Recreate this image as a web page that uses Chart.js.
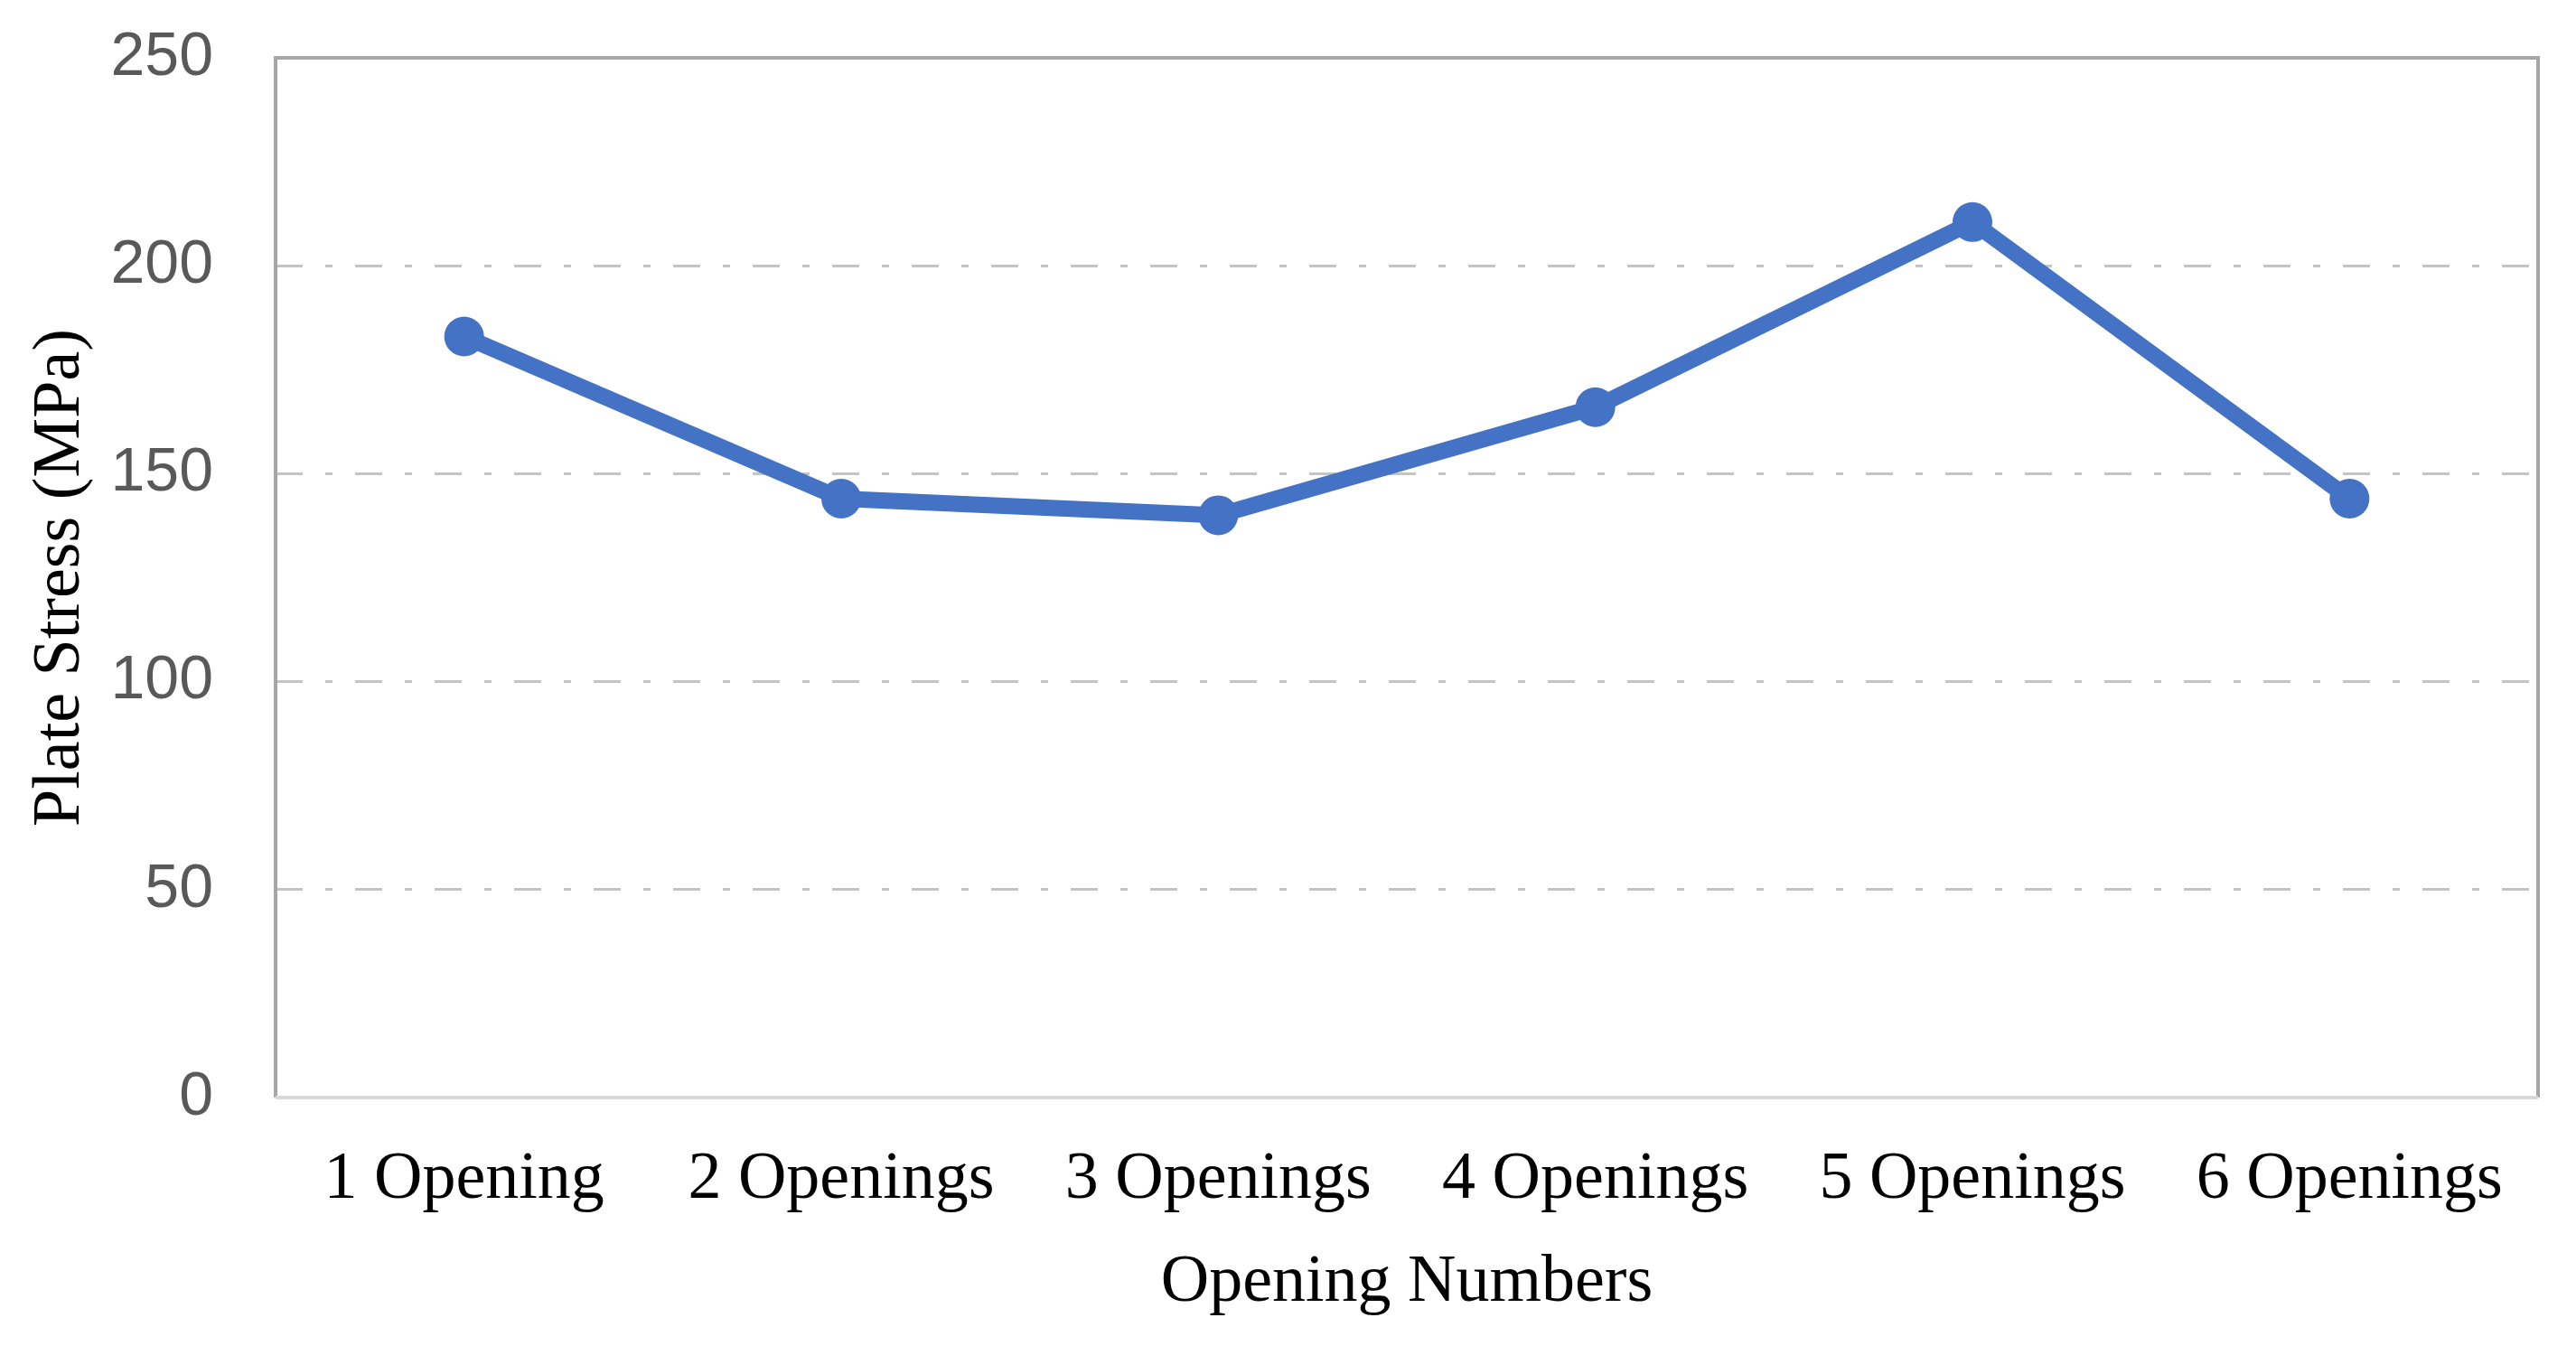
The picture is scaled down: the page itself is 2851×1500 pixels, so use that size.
<!DOCTYPE html>
<html>
<head>
<meta charset="utf-8">
<script src="https://cdn.jsdelivr.net/npm/chart.js@4/dist/chart.umd.min.js"></script>
<style>
  html, body { margin: 0; padding: 0; background: #fff; }
  #wrap { width: 2851px; height: 1500px; }
</style>
</head>
<body>
<div id="wrap"><canvas id="stressChart" width="2851" height="1500"></canvas></div>
<script>
// data
const categories = ['1 Opening', '2 Openings', '3 Openings', '4 Openings', '5 Openings', '6 Openings'];
const plateStress = [183, 144, 140, 166, 210.5, 144];
const yTicks = [0, 50, 100, 150, 200, 250];

const blue = '#4472C4';

// plot area frame, like the office chart box
const frame = {
    id: 'frame',
    beforeDatasetsDraw(chart) {
        const { ctx, chartArea: a } = chart;
        ctx.save();
        ctx.lineWidth = 4;
        ctx.strokeStyle = '#a6a6a6';
        ctx.beginPath();
        ctx.moveTo(a.left, a.bottom);
        ctx.lineTo(a.left, a.top);
        ctx.lineTo(a.right, a.top);
        ctx.lineTo(a.right, a.bottom);
        ctx.stroke();
        ctx.strokeStyle = '#d9d9d9';
        ctx.beginPath();
        ctx.moveTo(a.left, a.bottom);
        ctx.lineTo(a.right, a.bottom);
        ctx.stroke();
        ctx.restore();
    }
};

new Chart(document.getElementById('stressChart'), {
    type: 'line',
    data: {
        labels: categories,
        datasets: [{
            label: 'Plate Stress',
            data: plateStress,
            borderColor: blue,
            backgroundColor: blue,
            borderWidth: 18,
            pointRadius: 22,
            pointBackgroundColor: blue,
            pointBorderColor: blue,
            pointBorderWidth: 0,
            tension: 0
        }]
    },
    options: {
        responsive: false,
        animation: false,
        layout: { padding: { top: 64, right: 42, left: 0, bottom: 0 } },
        plugins: {
            legend: { display: false },
            tooltip: { enabled: false }
        },
        scales: {
            x: {
                offset: true,
                grid: { display: false, drawTicks: false },
                border: { display: false },
                ticks: {
                    color: '#000',
                    padding: 47,
                    maxRotation: 0,
                    font: { family: '"Liberation Serif", "Times New Roman", serif', size: 74 }
                },
                title: {
                    display: true,
                    text: 'Opening Numbers',
                    color: '#000',
                    padding: { top: 25, bottom: 35 },
                    font: { family: '"Liberation Serif", "Times New Roman", serif', size: 74 }
                },
                afterFit(axis) { axis.height = 285; }
            },
            y: {
                min: 0,
                max: 250,
                afterBuildTicks(axis) { axis.ticks = yTicks.map(v => ({ value: v })); },
                grid: { color: '#c4c4c4', lineWidth: 3, drawTicks: false },
                border: { display: false, dash: [30, 25, 8, 25] },
                ticks: {
                    color: '#595959',
                    padding: 69,
                    font: { family: '"Liberation Sans", sans-serif', size: 68 }
                },
                title: {
                    display: true,
                    text: 'Plate Stress (MPa)',
                    color: '#000',
                    padding: { top: 23, bottom: 0 },
                    font: { family: '"Liberation Serif", "Times New Roman", serif', size: 74 }
                },
                afterFit(axis) {
                    axis.width = 305;
                    axis.paddingTop = 0;
                    axis.paddingBottom = 0;
                }
            }
        }
    },
    plugins: [frame]
});
</script>
</body>
</html>
